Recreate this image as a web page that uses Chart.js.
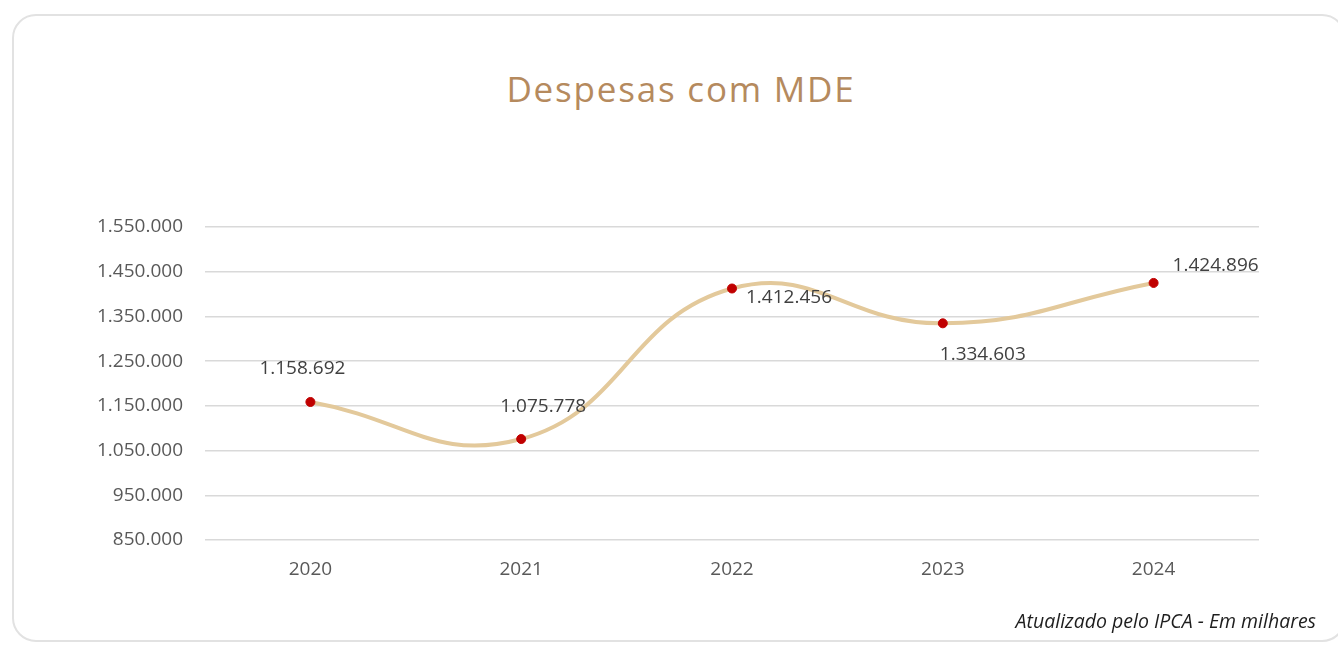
<!DOCTYPE html>
<html>
<head>
<meta charset="utf-8">
<script src="https://cdn.jsdelivr.net/npm/chart.js@4/dist/chart.umd.min.js"></script>
<style>
  html, body { margin: 0; padding: 0; background: #fff; overflow: hidden; }
  #wrap { position: relative; width: 1338px; height: 645px; }
  #card {
    position: absolute; left: 12px; top: 14px; width: 1334px; height: 628px;
    border: 2px solid #e2e2e2; border-radius: 24px; box-sizing: border-box;
  }
  #title {
    position: absolute; left: 0; width: 1362px; top: 65px; text-align: center;
    font-family: 'Open Sans', sans-serif; font-size: 35px; color: #b58a5e;
    letter-spacing: 1.8px;
  }
  #note {
    position: absolute; right: 22px; top: 607px;
    font-family: 'Open Sans', sans-serif; font-style: italic; font-size: 19.5px; color: #1e1e1e;
  }
  canvas { position: absolute; left: 0; top: 0; }
</style>
</head>
<body>
<div id="wrap">
  <div id="card"></div>
  <div id="title">Despesas com MDE</div>
  <canvas id="mde-chart" width="1338" height="645"></canvas>
  <div id="note">Atualizado pelo IPCA - Em milhares</div>
</div>
<script>
  const years = ['2020', '2021', '2022', '2023', '2024'];
  const spending = [1158692, 1075778, 1412456, 1334603, 1424896];
  const yMin = 850000;
  const yMax = 1550000;
  const yStep = 100000;

  const formatBR = (v) => v.toString().replace(/\B(?=(\d{3})+(?!\d))/g, '.');

  // where each value label sits relative to its point
  const labelOffsets = [[-8, -33], [22, -32], [57, 9], [40, 31], [62, -17]];

  const valueLabels = {
    id: 'valueLabels',
    afterDatasetsDraw(chart) {
      const ctx = chart.ctx;
      const meta = chart.getDatasetMeta(0);
      ctx.save();
      ctx.font = '19px "Open Sans", sans-serif';
      ctx.fillStyle = '#404040';
      ctx.textAlign = 'center';
      ctx.textBaseline = 'middle';
      meta.data.forEach((pt, i) => {
        const [dx, dy] = labelOffsets[i];
        ctx.fillText(formatBR(spending[i]), pt.x + dx, pt.y + dy);
      });
      ctx.restore();
    }
  };

  const tickFont = { family: '"Open Sans", sans-serif', size: 19 };

  new Chart(document.getElementById('mde-chart').getContext('2d'), {
    type: 'line',
    data: {
      labels: years,
      datasets: [{
        data: spending,
        borderColor: '#e3c99b',
        borderWidth: 4,
        tension: 0.45,
        pointRadius: 4.5,
        pointBackgroundColor: '#c00000',
        pointBorderColor: '#c00000',
        pointBorderWidth: 1,
        fill: false
      }]
    },
    options: {
      responsive: false,
      animation: false,
      layout: { padding: { top: 227, right: 79, bottom: 65, left: 0 } },
      plugins: { legend: { display: false }, tooltip: { enabled: false } },
      scales: {
        x: {
          offset: true,
          grid: { display: false },
          border: { display: false },
          ticks: { color: '#595959', font: tickFont, padding: 10 },
          afterFit: (scale) => { scale.height = 40; }
        },
        y: {
          min: yMin,
          max: yMax,
          grid: { color: '#d9d9d9', lineWidth: 1.5, drawTicks: false },
          border: { display: false },
          ticks: {
            stepSize: yStep,
            color: '#595959',
            font: tickFont,
            padding: 22,
            callback: (v) => formatBR(v)
          },
          afterFit: (scale) => { scale.width = 205; }
        }
      }
    },
    plugins: [valueLabels]
  });
</script>
</body>
</html>
